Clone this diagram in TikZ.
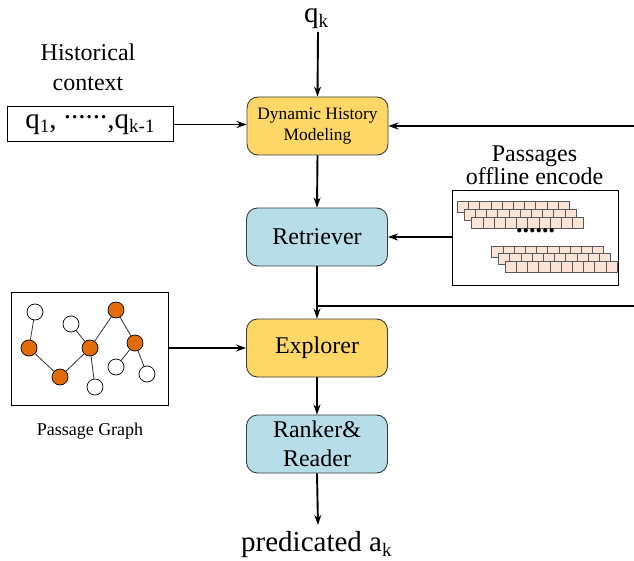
\documentclass[tikz,border=0pt]{standalone}
\usepackage{fontspec}
\setmainfont{Liberation Serif}
\newfontfamily\tnr{Liberation Serif}
\usetikzlibrary{arrows.meta}
\definecolor{boxyellow}{RGB}{255,215,102}
\definecolor{boxblue}{RGB}{182,221,232}
\definecolor{gorange}{RGB}{226,107,10}
\definecolor{peach}{RGB}{251,228,213}
\definecolor{edgegray}{RGB}{60,60,60}
\newcommand\mysub[1]{\raisebox{-4.5pt}{\fontsize{19}{19}\selectfont #1}}
\begin{document}
\begin{tikzpicture}[x=1pt,y=-1pt,
  flowbox/.style={draw=edgegray, line width=0.9pt, rounded corners=11pt, minimum width=141pt, minimum height=58pt, align=center, inner sep=0pt, font=\tnr\fontsize{24}{28.5}\selectfont},
  arr/.style={-{Stealth[length=10pt,width=7pt]}, line width=1.9pt},
  plain/.style={line width=1.9pt},
  lbl/.style={anchor=base, inner sep=0pt, font=\tnr\fontsize{24}{28}\selectfont},
  wnode/.style={circle, draw=black, fill=white, line width=0.7pt, minimum size=16pt, inner sep=0pt},
  onode/.style={circle, draw=black, fill=gorange, line width=0.7pt, minimum size=16pt, inner sep=0pt},
  gedge/.style={line width=0.8pt, draw=black!80},
  sq/.style={draw=black!65, fill=peach, line width=0.5pt}
  ]
\useasboundingbox (0,0) rectangle (634,561);

% main boxes
\node[flowbox, fill=boxyellow, font=\tnr\fontsize{17.4}{21.5}\selectfont] (dhm) at (317.5,126) {Dynamic History\\Modeling};
\node[flowbox, fill=boxblue] (ret) at (317,237) {Retriever};
\node[flowbox, fill=boxyellow] (exp) at (317,348) {Explorer};
\node[flowbox, fill=boxblue] (rr) at (317,444) {Ranker\&\\Reader};

% q_k
\node[lbl, font=\tnr\fontsize{29}{29}\selectfont] (qk) at (316,23) {q\mysub{k}};
\coordinate (qkend) at (318,32);
\draw[arr] (qkend) -- (dhm.north);

% predicated
\node[lbl, anchor=base west, font=\tnr\fontsize{29}{29}\selectfont] (pred) at (241,551.7) {predicated a\mysub{k}};
\coordinate (predtop) at (318,525);
\draw[arr] (rr.south) -- (predtop);

% flow arrows
\draw[arr] (dhm.south) -- (ret.north);
\draw[arr] (ret.south) -- (exp.north);
\draw[arr] (exp.south) -- (rr.north);

% historical context
\node[lbl] (hist1) at (88,61) {Historical};
\node[lbl] (hist2) at (88,91) {context};
\node[draw=black, line width=1pt, minimum width=166pt, minimum height=35pt, inner sep=0pt, font=\tnr\fontsize{29}{29}\selectfont] (qbox) at (90,124.5) {q\mysub{1}, \raisebox{10pt}{......},q\mysub{k-1}};
\draw[arr] (qbox.east) -- (dhm.west |- qbox.east);

% right feedback line to DHM
\coordinate (rtop) at (634,126);
\draw[arr] (rtop) -- (dhm.east |- rtop);

% right line joining retriever->explorer
\coordinate (rmid) at (634,306);
\coordinate (join) at (317,306);
\draw[plain] (rmid) -- (join);

% passages offline encode
\node[lbl] (pas1) at (534.5,161.5) {Passages};
\node[lbl] (pas2) at (534.5,185) {offline encode};
\node[draw=black, line width=0.8pt, minimum width=166pt, minimum height=95pt, inner sep=0pt] (pbox) at (535,237.5) {};
\foreach \x/\y in {457.3/201.7, 464/209.3, 471.7/217.3, 491.7/246, 498.4/253.4, 505/261.7}{
  \foreach \i in {0,...,9}{
    \draw[sq] (\x+\i*11.2, \y) rectangle ++(11.2,11);
  }
}
\node[inner sep=0pt, font=\tnr\bfseries\fontsize{26}{26}\selectfont] (pdots) at (535.5,231) {......};
\draw[arr] (pbox.west |- ret.east) -- (ret.east);

% passage graph
\node[draw=black, line width=0.8pt, minimum width=157pt, minimum height=113pt, inner sep=0pt] (gbox) at (89.5,348.5) {};
\node[lbl, font=\tnr\fontsize{18}{18}\selectfont] (glabel) at (90,435.7) {Passage Graph};
\coordinate (g1) at (35,312);
\coordinate (g2) at (29,348);
\coordinate (g3) at (60,377);
\coordinate (g4) at (71,324);
\coordinate (g5) at (90,348);
\coordinate (g6) at (95,387);
\coordinate (g7) at (116,310);
\coordinate (g8) at (135,343);
\coordinate (g9) at (116,367);
\coordinate (g10) at (147,374);
\node[wnode] (n1) at (g1) {};
\node[onode] (o1) at (g2) {};
\node[onode] (o2) at (g3) {};
\node[wnode] (n2) at (g4) {};
\node[onode] (o3) at (g5) {};
\node[wnode] (n3) at (g6) {};
\node[onode] (o4) at (g7) {};
\node[onode] (o5) at (g8) {};
\node[wnode] (n4) at (g9) {};
\node[wnode] (n5) at (g10) {};
\draw[gedge] (n1) -- (o1);
\draw[gedge] (o1) -- (o2);
\draw[gedge] (o2) -- (o3);
\draw[gedge] (n2) -- (o3);
\draw[gedge] (o3) -- (n3);
\draw[gedge] (o3) -- (o4);
\draw[gedge] (o4) -- (o5);
\draw[gedge] (o5) -- (n4);
\draw[gedge] (o5) -- (n5);
\draw[arr] (gbox.east |- exp.west) -- (exp.west);
\end{tikzpicture}
\end{document}
